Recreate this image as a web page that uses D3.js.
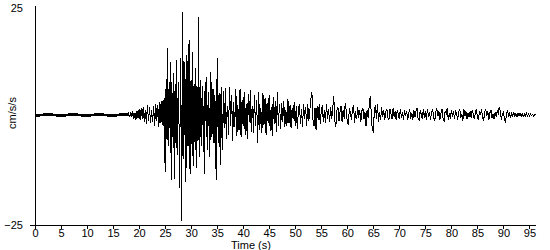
<!DOCTYPE html>
<html><head><meta charset="utf-8">
<script src="https://cdn.jsdelivr.net/npm/d3@7"></script>
<style>
body{margin:0;background:#fff}
svg{display:block}
text{font-family:"Liberation Sans",Arial,sans-serif;font-size:11px;fill:#000}
</style>
</head><body>
<svg id="c" width="550" height="250"></svg>
<script>
// Acceleration (cm/s/s), consecutive segments.
// Each segment: start time (s) and sampling interval (s)
const preEventStart = 0.0, preEventStep = 0.1;
const preEvent = [ // 0.0 - 17.9 s
 0.15,-0.15,0.15,-0.15,0.15,-0.15,0.15,-0.15,0.15,-0.15,0.15,-0.15,0.15,-0.15,0.15,-0.15,0.15,-0.15,0.15,-0.15,
 0.15,-0.15,0.15,-0.15,0.15,-0.15,0.15,-0.15,0.15,-0.15,0.15,-0.15,0.15,-0.15,0.15,-0.15,0.15,-0.15,0.15,-0.15,
 0.15,-0.15,0.15,-0.15,0.15,-0.15,0.15,-0.15,0.15,-0.15,0.15,-0.15,0.15,-0.15,0.15,-0.15,0.15,-0.15,0.15,-0.15,
 0.15,-0.15,0.15,-0.15,0.15,-0.15,0.15,-0.15,0.15,-0.15,0.15,-0.15,0.15,-0.15,0.15,-0.15,0.15,-0.15,0.15,-0.15,
 0.15,-0.15,0.15,-0.15,0.15,-0.15,0.15,-0.15,0.15,-0.15,0.15,-0.15,0.15,-0.15,0.15,-0.15,0.15,-0.15,0.15,-0.15,
 0.15,-0.15,0.15,-0.15,0.15,-0.15,0.15,-0.15,0.15,-0.15,0.15,-0.15,0.15,-0.15,0.15,-0.15,0.15,-0.15,0.15,-0.15,
 0.15,-0.15,0.15,-0.15,0.15,-0.15,0.15,-0.15,0.15,-0.15,0.15,-0.15,0.15,-0.15,0.15,-0.15,0.15,-0.15,0.15,-0.15,
 0.15,-0.15,0.15,-0.15,0.15,-0.15,0.15,-0.15,0.15,-0.15,0.15,-0.15,0.15,-0.15,0.15,-0.15,0.15,-0.15,0.15,-0.15,
 0.15,-0.15,0.15,-0.15,0.15,-0.15,0.15,-0.15,0.15,-0.15,0.15,-0.15,0.15,-0.15,0.15,-0.15,0.15,-0.15,0.15,-0.15];
const pWaveStart = 18.0, pWaveStep = 0.2;
const pWave = [ // 18.0 - 24.4 s
 0.3,-0.5,0.6,-0.4,0.8,-0.9,0.5,-1.1,1.0,-0.7,
 1.3,-1.2,1.6,-0.8,1.9,-1.5,1.2,-2.0,2.3,-1.4,
 1.7,-1.9,1.1,-1.6,2.0,-2.4,2.6,-1.3,2.2,-2.7,
 2.9,-1.8,3.2];
const strongStart = 24.6, strongStep = 0.1;
const strongMotion = [ // 24.6 - 36.0 s
 -2.5,1.5,3.8,-2.0,-13.0,6.0,5.0,-5.5,15.2,-4.0,
 -7.0,6.0,-3.0,4.5,12.1,-6.0,-14.8,7.5,-5.0,4.0,
 9.5,-6.5,-14.5,5.5,7.0,-7.5,12.5,-5.0,-9.0,7.5,
 6.5,-6.0,-16.5,5.5,12.9,-7.0,-24.0,6.5,23.5,-6.8,
 -10.0,7.2,12.1,-6.0,-15.2,7.0,13.6,-6.5,-7.0,5.5,
 17.0,-7.0,-13.3,6.8,8.0,-6.5,14.4,-5.8,-11.7,6.0,
 7.0,-6.2,10.6,-5.5,-12.0,6.5,6.0,-6.0,22.3,-5.0,
 -9.5,6.2,8.0,-5.5,-7.0,5.0,6.5,-4.5,-8.5,5.5,
 -13.3,4.8,7.6,-5.0,8.7,-4.0,-8.0,5.2,4.0,-3.5,
 -9.5,4.5,9.8,-4.8,-5.0,4.2,6.0,-3.8,-6.4,4.5,
 3.0,-3.2,-14.8,-4.0,12.9,3.5,-6.4,4.2,5.0,-3.6,
 -11.4,3.8,6.4,-4.0,-8.0];
const codaEarlyStart = 36.2, codaEarlyStep = 0.1;
const codaEarly = [ // 36.2 - 47.0 s
 5.5,-1.5,-3.0,2.5,6.2,-2.0,-5.5,1.0,2.0,-1.0,-4.5,3.0,6.4,1.5,-2.5,2.0,4.5,-2.5,-5.8,1.2,
 3.0,-2.8,-2.0,3.0,5.8,-1.5,-4.8,2.2,1.5,-2.0,-3.5,2.8,6.0,-2.2,-5.0,1.5,3.5,-1.2,-2.5,2.4,
 5.2,-2.0,-4.5,1.0,2.5,-2.6,-5.5,2.0,4.8,0.5,-1.5,3.0,5.6,-1.8,-3.8,1.5,2.0,-1.0,-4.2,2.6,
 4.6,-1.0,-2.4,2.2,3.5,-3.0,-6.3,1.8,5.2,-1.5,-3.3,0.8,1.5,-2.0,-4.0,2.5,5.0,-0.8,-2.2,2.0,
 3.8,-2.2,-4.5,1.2,2.8,-0.5,-1.8,2.4,4.6,-1.2,-3.6,0.6,1.8,-2.5,-4.8,1.8,4.0,-0.6,-2.0,1.5,
 3.2,-1.8,-3.8,2.2,5.3,-0.8,-2.6,1.0,2.4];
const codaMidStart = 47.2, codaMidStep = 0.2;
const codaMid = [ // 47.2 - 57.0 s
 -3.2,2.8,-1.5,3.2,-2.8,1.2,-2.4,3.6,-1.8,2.2,
 -3.0,1.5,-1.0,3.0,-2.6,2.0,-3.2,1.0,2.6,-2.0,
 1.4,-2.8,2.4,-0.8,1.8,-2.5,2.6,-1.4,1.0,3.5,
 5.3,-1.0,-2.6,1.6,-3.4,2.0,-1.2,2.4,-2.0,0.8,
 2.2,-1.6,1.2,-1.9,2.6,-0.8,1.4,-1.5,1.9,-1.0];
const codaLateStart = 57.2, codaLateStep = 0.2;
const codaLate = [ // 57.2 - 76.0 s
 1.4,4.2,-1.2,-2.7,1.0,1.8,-1.4,0.6,2.0,-1.6,
 1.2,-0.8,2.6,1.0,-1.5,-2.3,1.6,0.4,-1.2,1.4,
 2.3,-1.9,0.8,-1.0,1.8,-0.6,1.2,-1.6,0.9,1.6,
 -1.0,0.6,-2.5,1.2,-0.6,2.0,4.3,0.5,-3.4,-3.8,
 1.0,2.2,-0.8,2.6,-1.5,0.6,-1.2,1.8,-0.4,1.2,
 -1.1,0.8,1.4,-0.6,-1.1,1.3,0.2,-0.9,1.5,-0.5,
 0.9,-1.2,1.1,0.3,-1.0,1.4,-0.6,0.7,-1.1,1.2,
 -0.3,1.0,-1.2,0.5,1.3,-0.8,0.4,-1.1,1.1,-0.4,
 0.8,1.5,-0.9,-1.2,1.0,0.2,-1.0,1.3,-0.6,0.9,
 -1.1,1.4,-0.5,0.6,-1.2];
const codaTailStart = 76.2, codaTailStep = 0.2;
const codaTail = [ // 76.2 - 96.2 s
 0.8,1.2,-0.5,-1.4,0.6,1.5,-0.3,0.8,-1.1,0.4,
 1.3,-0.7,-1.5,0.9,0.3,1.5,-1.2,0.5,-0.8,1.1,
 -0.4,0.9,-1.0,1.2,0.2,-1.1,0.6,1.4,-0.6,0.3,
 -1.3,1.4,-0.2,0.8,-0.9,0.4,-0.5,0.9,-0.7,1.2,
 0.3,-1.0,0.5,1.3,-0.4,-1.1,0.8,0.2,1.4,-0.8,
 -1.2,0.6,1.4,-0.3,0.9,-1.1,0.5,1.2,-0.6,0.2,
 -1.0,0.7,-0.4,1.0,0.4,1.9,0.8,-1.1,0.3,0.6,
 -0.8,-1.7,0.4,1.2,-0.5,0.3,-0.6,0.4,-0.2,0.5,
 -0.4,0.3,-0.5,0.4,-0.2,0.5,-0.3,0.3,-0.4,0.2,
 -0.3,0.4,-0.2,0.2,-0.3,0.2,-0.1,0.1,-0.2,0.1,
 0.0];

// Axis ticks and labels
const xTickValues = [0,5,10,15,20,25,30,35,40,45,50,55,60,65,70,75,80,85,90,95];
const yTickValues = [-25, 25];
const xDomain = [0, 96.2];
const yDomain = [-25, 25];
const xTitle = "Time (s)";
const yTitle = "cm/s/s";

// table of segments -> [time, value] points
const segments = [
  {start: preEventStart, step: preEventStep, values: preEvent},
  {start: pWaveStart, step: pWaveStep, values: pWave},
  {start: strongStart, step: strongStep, values: strongMotion},
  {start: codaEarlyStart, step: codaEarlyStep, values: codaEarly},
  {start: codaMidStart, step: codaMidStep, values: codaMid},
  {start: codaLateStart, step: codaLateStep, values: codaLate},
  {start: codaTailStart, step: codaTailStep, values: codaTail}
];
const points = [];
segments.forEach(s => s.values.forEach((v, i) => points.push([s.start + i * s.step, v])));

const svg = d3.select("#c");
const x = d3.scaleLinear().domain(xDomain).range([35, 535.7]);
const y = d3.scaleLinear().domain(yDomain).range([225, 5]);

// trace
const line = d3.line()
  .x(d => x(d[0]))
  .y(d => y(d[1]));
svg.append("path")
  .datum(points)
  .attr("d", line)
  .attr("fill", "none")
  .attr("stroke", "#000")
  .attr("stroke-width", 1)
  .attr("shape-rendering", "crispEdges");

// x axis
const gx = svg.append("g")
  .attr("transform", `translate(0,${y(-25)})`)
  .call(d3.axisBottom(x).tickValues(xTickValues).tickSize(4).tickSizeOuter(0).tickPadding(0));
gx.selectAll("path,line").attr("stroke", "#000").attr("shape-rendering", "crispEdges");
gx.selectAll("text").style("font-size", "11px").style("font-family", '"Liberation Sans",Arial,sans-serif');

// y axis
const gy = svg.append("g")
  .attr("transform", `translate(${x(0)},0)`)
  .call(d3.axisLeft(y).tickValues(yTickValues).tickSize(5).tickSizeOuter(0).tickPadding(7));
gy.selectAll("path,line").attr("stroke", "#000").attr("shape-rendering", "crispEdges");
gy.selectAll(".tick").filter(d => d === 25).select("line").remove();
gy.selectAll(".tick").filter(d => d === 25).select("text").attr("dy", "0.55em");
gy.selectAll("text").style("font-size", "11px").style("font-family", '"Liberation Sans",Arial,sans-serif');

// titles
svg.append("text")
  .attr("x", 251).attr("y", 249)
  .attr("text-anchor", "middle")
  .text(xTitle);
svg.append("text")
  .attr("transform", `translate(12,${y(0) - 2}) rotate(-90)`)
  .attr("text-anchor", "middle")
  .attr("dy", "0.35em")
  .text(yTitle);
</script>
</body></html>
